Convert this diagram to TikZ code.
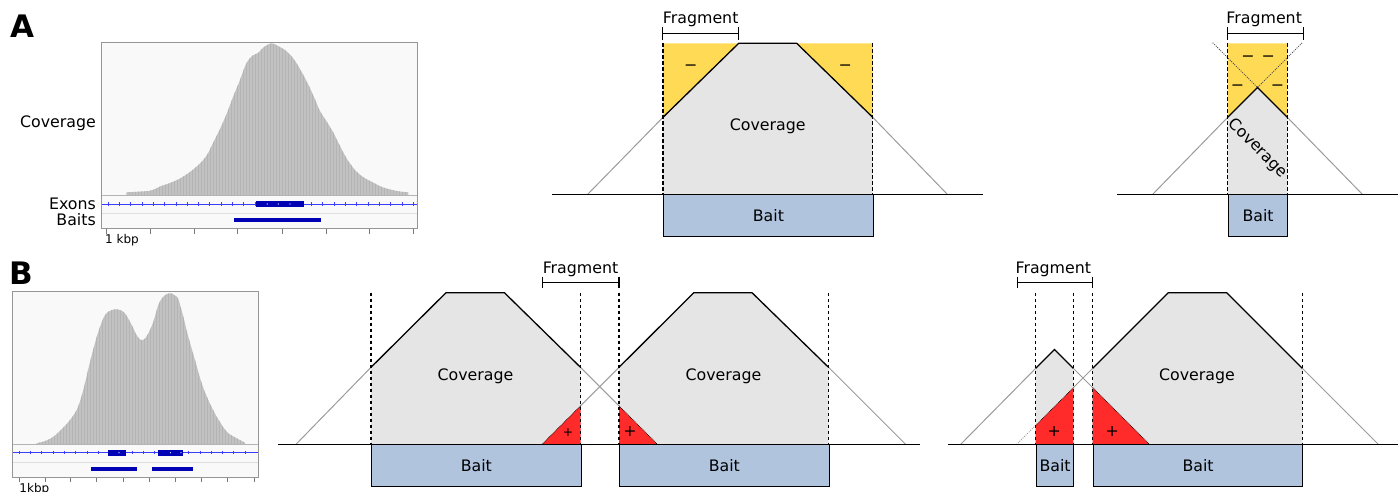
\documentclass[tikz,border=0pt]{standalone}
\usepackage{fontspec}
\setmainfont{DejaVu Sans}
\definecolor{covgray}{RGB}{229,229,229}
\definecolor{ygold}{RGB}{255,218,85}
\definecolor{pred}{RGB}{255,42,42}
\definecolor{baitblue}{RGB}{176,196,222}
\definecolor{rampgray}{RGB}{155,155,155}
\definecolor{histgray}{RGB}{194,194,194}
\definecolor{histline}{RGB}{180,180,180}
\definecolor{igvbg}{RGB}{249,249,249}
\definecolor{igvframe}{RGB}{150,150,150}
\definecolor{igvsep}{RGB}{180,180,180}
\definecolor{igvsepl}{RGB}{222,222,222}
\definecolor{igvtick}{RGB}{120,120,120}
\definecolor{exonblue}{RGB}{0,0,180}
\definecolor{exonline}{RGB}{60,60,255}
\begin{document}
\begin{tikzpicture}[x=1pt,y=-1pt,
  font=\fontsize{15.8}{18}\selectfont,
  covline/.style={line width=1.3pt, line join=miter},
  ramp/.style={draw=rampgray, line width=1pt},
  guide/.style={line width=1.1pt, dash pattern=on 3.5pt off 2.5pt},
  baseln/.style={line width=1.2pt},
  hyp/.style={line width=0.7pt, dash pattern=on 0.7pt off 0.9pt},
  ghost/.style={draw=rampgray, line width=0.8pt, dash pattern=on 1pt off 1.2pt},
  baitbox/.style={draw, fill=baitblue, line width=1.1pt, inner sep=0pt, anchor=north west, minimum height=41.7pt},
  txt/.style={inner sep=0pt},
  bracket/.style={line width=1.1pt},
  small/.style={font=\fontsize{12}{14}\selectfont, inner sep=0pt},
  panel/.style={font=\fontsize{31}{34}\selectfont\bfseries, inner sep=0pt, anchor=base west},
]
\useasboundingbox (0,0) rectangle (1400,492);

% ================= Panel labels =================
\node[panel] (labA) at (10.5,38) {A};
\node[panel] (labB) at (9,284.3) {B};

% ================= A: IGV-like coverage plot =================
\fill[igvbg] (101.7,42.3) rectangle (417.7,228.7);
\begin{scope}
\clip (126.7,195) -- plot[smooth, tension=0.5] coordinates {(126.7,192.3) (148,191) (155,189) (160,186.5) (170,183) (180,178.5) (190,172) (200,163.5) (207,155) (213,143) (220,129) (227,113) (233,97) (240,80) (246,64) (252,56) (258,53) (264,47) (271.7,43.3) (278,46) (285,50) (293,58) (300,69) (307,82) (314,97) (320,111) (327,122) (333,132) (340,146) (347,159) (355,170) (363,177) (372,182) (382,187) (392,190) (400,191.5) (408.3,192.3)} -- (408.3,195) -- cycle;
\fill[histgray] (100,40) rectangle (420,196);
\foreach \x in {126,129,...,410} \draw[histline, line width=0.6pt] (\x,40) -- (\x,196);
\end{scope}
\draw[igvsep] (101.7,195) -- (417.7,195);
\draw[exonline, line width=0.8pt] (101.7,204) -- (417.7,204);
\foreach \x in {108,119.3,...,416} \draw[exonline, line width=0.6pt] (\x,202.3) -- (\x,205.7);
\fill[exonblue] (256,201.3) rectangle (304.3,207);
\foreach \x in {267.3,278.3,290} \fill[white] (\x,204) circle (0.6);
\draw[igvsepl] (101.7,213.3) -- (417.7,213.3);
\fill[exonblue] (234.3,217.7) rectangle (320.7,221.7);
\draw[igvframe, line width=1.2pt] (101.7,42.3) rectangle (417.7,228.7);
\foreach \x in {106,150.7,194.3,237.7,282,326,369.3,413.3} \draw[igvtick, line width=0.8pt] (\x,228.7) -- (\x,233.5);
\node[small, anchor=base west] (kbpA) at (105,243.5) {1 kbp};
\node[txt, anchor=base east] (covlabA) at (96,127.3) {Coverage};
\node[txt, anchor=base east] (exlabA) at (96,209) {Exons};
\node[txt, anchor=base east] (bailabA) at (96,225) {Baits};

% ================= A: middle scheme =================
\fill[covgray] (663,194.3) -- (663,117.3) -- (738.7,43.3) -- (796.7,43.3) -- (872.7,117.3) -- (872.7,194.3) -- cycle;
\fill[ygold] (663,43.3) -- (738.7,43.3) -- (663,117.3) -- cycle;
\fill[ygold] (872.7,43.3) -- (796.7,43.3) -- (872.7,117.3) -- cycle;
\draw[ramp] (587.7,194.3) -- (663,117.3);
\draw[ramp] (872.7,117.3) -- (947.3,194.3);
\draw[covline] (663,117.3) -- (738.7,43.3) -- (796.7,43.3) -- (872.7,117.3);
\draw[guide] (663,43.3) -- (663,194.3);
\draw[guide] (872.7,43.3) -- (872.7,194.3);
\draw[baseln] (552,194.3) -- (983.3,194.3);
\node[baitbox, minimum width=209.7pt] (baitA1) at (663,194.3) {Bait};
\draw[bracket] (662.7,27) -- (662.7,40) (662.7,33.5) -- (738.7,33.5) (738.7,27) -- (738.7,40);
\node[txt, anchor=base] (fragA1) at (700.7,24) {Fragment};
\node[txt, anchor=base] (covA1) at (767.7,130.7) {Coverage};
\node[txt] (mA1) at (690.7,67.7) {−};
\node[txt] (mA2) at (845.3,67.7) {−};

% ================= A: right scheme =================
\fill[covgray] (1227.7,194.3) -- (1227.7,117.3) -- (1257.5,87.5) -- (1287.3,117.3) -- (1287.3,194.3) -- cycle;
\fill[ygold] (1227.7,43.3) -- (1287.3,43.3) -- (1287.3,117.3) -- (1257.5,87.5) -- (1227.7,117.3) -- cycle;
\draw[ramp] (1152.7,194.3) -- (1227.7,117.3);
\draw[ramp] (1287.3,117.3) -- (1362.3,194.3);
\draw[ghost, draw=black!70] (1212.7,42.7) -- (1257.5,87.5) -- (1302.3,42.7);
\draw[covline] (1227.7,117.3) -- (1257.5,87.5) -- (1287.3,117.3);
\draw[guide] (1227.7,43.3) -- (1227.7,194.3);
\draw[guide] (1287.3,43.3) -- (1287.3,194.3);
\draw[baseln] (1117.3,194.3) -- (1397.7,194.3);
\node[baitbox, minimum width=59.6pt] (baitA2) at (1227.7,194.3) {Bait};
\draw[bracket] (1227.7,27) -- (1227.7,40) (1227.7,33.5) -- (1303.3,33.5) (1303.3,27) -- (1303.3,40);
\node[txt, anchor=base] (fragA2) at (1264.2,24) {Fragment};
\node[txt, rotate=-45] (covA2) at (1257.5,148.3) {Coverage};
\node[txt] (mA3) at (1248,58.3) {−};
\node[txt] (mA4) at (1268.3,58.3) {−};
\node[txt] (mA5) at (1237.5,87.7) {−};
\node[txt] (mA6) at (1277.5,87.7) {−};

% ================= B: IGV-like coverage plot =================
\fill[igvbg] (12.7,291.7) rectangle (258.3,477.7);
\begin{scope}
\clip (36.7,444.3) -- plot[smooth, tension=0.5] coordinates {(36.7,443.3) (46.7,440.5) (55,435.5) (66.7,424) (76.7,410) (83.3,390) (90,362) (96.7,337) (103.3,318.3) (108.3,311.7) (115,309.3) (120,310) (125,313.3) (131.7,325) (136,334) (140,339.5) (144,339.5) (148,334) (153.3,322) (158.3,305) (163,297) (167,294) (171,293.3) (175,295.5) (178.3,299) (183.3,316.7) (188.3,336.7) (195,360) (201.7,383.3) (208.3,400) (216.7,416.7) (226.7,431.7) (235,437.3) (245,442.7)} -- (245,444.3) -- cycle;
\fill[histgray] (10,290) rectangle (260,445);
\foreach \x in {36,39,...,246} \draw[histline, line width=0.6pt] (\x,290) -- (\x,445);
\end{scope}
\draw[igvsep] (12.7,444.3) -- (258.3,444.3);
\draw[exonline, line width=0.8pt] (12.7,452.7) -- (258.3,452.7);
\foreach \x in {19,30.3,...,256} \draw[exonline, line width=0.6pt] (\x,451) -- (\x,454.4);
\fill[exonblue] (107.7,450) rectangle (125.7,455.7);
\fill[exonblue] (158,450) rectangle (183,455.7);
\foreach \x in {119,170.5,181} \fill[white] (\x,452.8) circle (0.6);
\draw[igvsepl] (12.7,461.7) -- (258.3,461.7);
\fill[exonblue] (90.7,467.3) rectangle (137.3,470.7);
\fill[exonblue] (151.7,467.3) rectangle (193.3,470.7);
\draw[igvframe, line width=1.2pt] (12.7,291.7) rectangle (258.3,477.7);
\foreach \x in {19,45,70.7,96.7,123.3,149,175.3,201.7,227.7,254} \draw[igvtick, line width=0.8pt] (\x,477.7) -- (\x,482);
\node[small, anchor=base west] (kbpB) at (19.3,492.3) {1kbp};

% ================= B: middle scheme =================
\fill[covgray] (371,444.3) -- (371,367.3) -- (446,292.7) -- (504.4,292.7) -- (580.5,367.3) -- (580.5,444.3) -- cycle;
\fill[covgray] (619,444.3) -- (619,367.3) -- (693.8,292.7) -- (752,292.7) -- (828.5,367.3) -- (828.5,444.3) -- cycle;
\fill[pred] (542,444.3) -- (580.5,444.3) -- (580.5,405.8) -- cycle;
\fill[pred] (619,444.3) -- (619,405.8) -- (657.5,444.3) -- cycle;
\draw[ramp] (296,444.3) -- (371,367.3);
\draw[ramp] (580.5,367.3) -- (619,405.8);
\draw[ramp] (619,367.3) -- (580.5,405.8);
\draw[ramp] (828.5,367.3) -- (905.5,444.3);
\draw[hyp] (619,405.8) -- (657.5,444.3);
\draw[hyp] (580.5,405.8) -- (542,444.3);
\draw[covline] (371,367.3) -- (446,292.7) -- (504.4,292.7) -- (580.5,367.3);
\draw[covline] (619,367.3) -- (693.8,292.7) -- (752,292.7) -- (828.5,367.3);
\foreach \x in {371,580.5,619,828.5} \draw[guide] (\x,292.7) -- (\x,444.3);
\draw[baseln] (278.4,444.3) -- (920.3,444.3);
\node[baitbox, minimum width=209.5pt] (baitB1) at (371,444.3) {Bait};
\node[baitbox, minimum width=209.5pt] (baitB2) at (619,444.3) {Bait};
\draw[bracket] (542.5,276.7) -- (542.5,288.3) (542.5,282.3) -- (619,282.3) (619,276.7) -- (619,288.3);
\node[txt, anchor=base] (fragB1) at (580.5,273.3) {Fragment};
\node[txt, anchor=base] (covB1) at (475.5,380.7) {Coverage};
\node[txt, anchor=base] (covB2) at (723.5,380.7) {Coverage};
\node[txt, font=\fontsize{12.5}{14}\selectfont] (pB1) at (568,433) {+};
\node[txt] (pB2) at (630,431.7) {+};

% ================= B: right scheme =================
\fill[covgray] (1035.7,444.3) -- (1035.7,368.3) -- (1054.5,349.5) -- (1073.3,368.3) -- (1073.3,444.3) -- cycle;
\fill[covgray] (1092.7,444.3) -- (1092.7,368.3) -- (1168.3,292.7) -- (1226.7,292.7) -- (1302.3,368.3) -- (1302.3,444.3) -- cycle;
\fill[pred] (1035.7,444.3) -- (1073.3,444.3) -- (1073.3,387.7) -- (1035.7,425.3) -- cycle;
\fill[pred] (1092.7,444.3) -- (1092.7,387.7) -- (1149.3,444.3) -- cycle;
\draw[ramp] (960.7,444.3) -- (1035.7,368.3);
\draw[ramp] (1073.3,368.3) -- (1092.7,387.7);
\draw[ramp] (1092.7,368.3) -- (1073.3,387.7);
\draw[ramp] (1302.3,368.3) -- (1378.3,444.3);
\draw[hyp] (1073.3,387.7) -- (1035.7,425.3);
\draw[hyp] (1092.7,387.7) -- (1149.3,444.3);
\draw[ghost] (1035.7,425.3) -- (1016.7,444.3);
\draw[covline] (1035.7,368.3) -- (1054.5,349.5) -- (1073.3,368.3);
\draw[covline] (1092.7,368.3) -- (1168.3,292.7) -- (1226.7,292.7) -- (1302.3,368.3);
\foreach \x in {1035.7,1073.3,1092.7,1302.3} \draw[guide] (\x,292.7) -- (\x,444.3);
\draw[baseln] (948,444.3) -- (1398,444.3);
\node[baitbox, minimum width=37.6pt] (baitB3) at (1035.7,444.3) {Bait};
\node[baitbox, minimum width=209.6pt] (baitB4) at (1092.7,444.3) {Bait};
\draw[bracket] (1017.3,276.7) -- (1017.3,288.3) (1017.3,282.3) -- (1092.7,282.3) (1092.7,276.7) -- (1092.7,288.3);
\node[txt, anchor=base] (fragB2) at (1053.3,273.3) {Fragment};
\node[txt, anchor=base] (covB3) at (1197,380.7) {Coverage};
\node[txt] (pB3) at (1054.3,431.7) {+};
\node[txt] (pB4) at (1112.3,431.7) {+};
\end{tikzpicture}
\end{document}
